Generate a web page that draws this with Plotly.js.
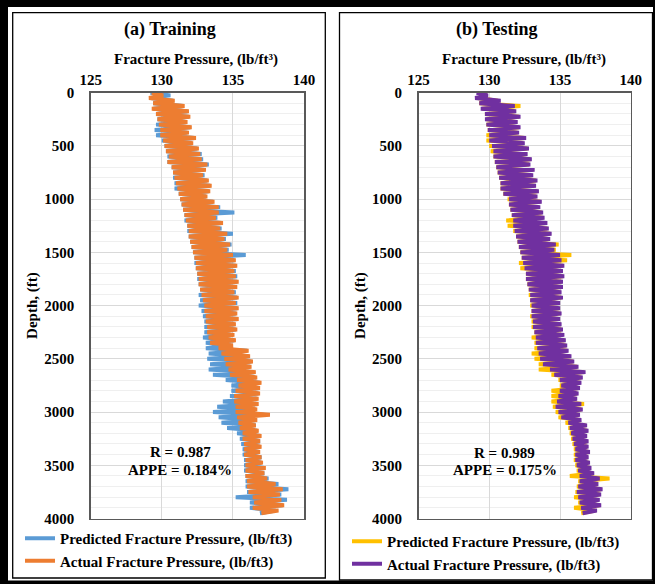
<!DOCTYPE html>
<html>
<head>
<meta charset="utf-8">
<script src="https://cdn.plot.ly/plotly-3.0.1.min.js"></script>
<style>html,body{margin:0;padding:0;background:#fff;}#chart{width:655px;height:584px;}</style>
</head>
<body>
<div id="chart"></div>
<script>
// Depth (ft)
const depthFt = [
0,25,50,75,100,125,150,175,200,225,250,275,300,325,350,375,400,425,450,475,
500,525,550,575,600,625,650,675,700,725,750,775,800,825,850,875,900,925,950,975,
1000,1025,1050,1075,1100,1125,1150,1175,1200,1225,1250,1275,1300,1325,1350,1375,1400,1425,1450,1475,
1500,1525,1550,1575,1600,1625,1650,1675,1700,1725,1750,1775,1800,1825,1850,1875,1900,1925,1950,1975,
2000,2025,2050,2075,2100,2125,2150,2175,2200,2225,2250,2275,2300,2325,2350,2375,2400,2425,2450,2475,
2500,2525,2550,2575,2600,2625,2650,2675,2700,2725,2750,2775,2800,2825,2850,2875,2900,2925,2950,2975,
3000,3025,3050,3075,3100,3125,3150,3175,3200,3225,3250,3275,3300,3325,3350,3375,3400,3425,3450,3475,
3500,3525,3550,3575,3600,3625,3650,3675,3700,3725,3750,3775,3800,3825,3850,3875,3900,3925,3950
];

// (a) Training - Predicted fracture pressure (lb/ft3)
const trainPredicted = [
129.2,130.6,129.2,130.8, 129.4,131.5,129.4,131.8, 129.6,131.9,129.7,131.7, 129.6,132.0,129.5,131.8, 129.6,132.3,130.0,132.1,
130.2,132.5,130.3,132.8, 130.4,132.9,130.4,133.3, 130.7,133.0,130.8,133.0, 130.8,133.2,130.9,133.4, 130.9,133.3,131.2,133.1,
131.3,133.6,131.4,134.1, 131.5,135.1,131.6,133.9, 131.6,134.2,131.8,134.2, 131.8,135.0,131.9,134.5, 132.0,134.9,132.1,134.7,
132.2,135.9,132.3,135.1, 132.3,135.2,132.4,135.2, 132.5,135.3,132.5,135.3, 132.6,135.2,132.7,135.2, 132.6,135.3,132.7,135.3,
132.6,135.3,132.8,135.2, 132.9,135.3,133.0,135.1, 133.0,135.2,133.0,135.0, 132.9,135.1,133.1,134.9, 133.1,136.0,133.3,136.1,
133.2,136.3,133.4,136.2, 133.3,136.5,133.6,136.6, 134.5,136.9,134.9,136.8, 134.9,136.8,134.8,136.7, 134.3,136.7,133.9,136.6,
133.6,137.2,134.0,136.6, 134.2,136.6,134.6,136.7, 135.3,136.9,135.5,136.9, 135.6,136.9,135.7,136.8, 135.7,137.0,135.8,137.0,
135.8,137.2,135.8,137.2, 135.9,137.5,135.9,138.2, 135.9,138.9,136.0,138.4, 135.2,138.8,136.2,138.5, 136.2,138.0,136.9
];

// (a) Training - Actual fracture pressure (lb/ft3)
const trainActual = [
129.3,130.1,129.1,130.9, 129.4,131.6,129.3,131.9, 129.6,132.0,129.7,131.8, 129.8,132.1,129.9,131.9, 129.9,132.4,130.1,132.2,
130.2,132.6,130.3,132.7, 130.5,132.8,130.4,133.2, 130.7,133.1,130.8,132.9, 130.9,133.3,131.0,133.5, 131.1,133.4,131.2,133.2,
131.3,133.7,131.4,134.0, 131.5,134.0,131.6,133.8, 131.7,134.3,131.8,134.1, 131.9,134.6,131.9,134.4, 132.0,134.8,132.1,134.6,
132.2,135.0,132.3,135.2, 132.4,135.3,132.4,135.1, 132.5,135.2,132.6,135.4, 132.6,135.3,132.7,135.1, 132.8,135.4,132.9,135.2,
133.0,135.4,133.0,135.3, 133.1,135.4,133.1,135.2, 133.2,135.3,133.2,135.1, 133.3,135.2,133.4,135.0, 134.0,136.1,134.2,136.2,
134.4,136.4,134.5,136.3, 134.7,136.6,134.8,136.7, 135.3,137.0,135.4,136.9, 135.2,136.9,135.1,136.8, 135.1,136.8,135.2,136.7,
135.2,137.6,135.3,136.7, 135.4,136.6,135.5,136.8, 135.7,137.0,135.7,136.9, 135.8,137.0,135.8,136.9, 135.8,137.0,135.9,137.1,
135.9,137.3,135.9,137.2, 135.9,137.4,136.0,138.0, 136.0,138.5,136.1,138.3, 136.4,138.4,136.5,138.6, 136.4,138.2,137.0
];

// (b) Testing - Predicted fracture pressure (lb/ft3)
const testPredicted = [
129.4,129.8,129.2,130.6, 129.3,132.2,129.5,131.8, 129.7,132.1,129.8,131.9, 129.8,132.1,129.9,132.0, 129.8,132.5,129.8,132.4,
130.0,132.7,130.1,132.6, 130.3,132.9,130.4,132.8, 130.5,133.1,130.6,133.0, 130.7,133.3,130.8,133.2, 130.8,133.4,131.0,133.3,
131.3,133.6,131.4,133.5, 131.5,133.7,131.6,133.8, 131.2,134.0,131.3,134.1, 131.7,134.3,131.9,134.2, 132.0,134.9,132.1,134.7,
132.2,135.8,132.3,135.5, 132.1,135.2,132.2,135.1, 132.6,135.2,132.6,135.1, 132.7,135.1,132.8,135.0, 132.8,135.1,132.9,134.9,
132.9,134.9,133.0,135.0, 132.9,134.9,133.0,135.0, 133.0,135.1,133.2,135.2, 133.0,135.3,133.2,135.4, 133.2,135.5,133.0,135.7,
133.2,135.9,133.5,136.2, 133.5,136.7,134.4,136.5, 134.9,136.4,135.0,136.3, 134.4,136.2,134.4,136.1, 134.4,136.7,134.5,136.5,
134.7,136.3,134.9,136.4, 135.4,136.8,135.6,136.9, 135.7,136.8,135.8,136.9, 135.9,136.9,136.0,137.0, 136.0,136.9,136.0,137.0,
136.1,137.1,136.2,137.3, 135.7,138.5,136.3,137.6, 136.2,137.9,136.1,137.8, 136.0,137.7,136.3,137.8, 136.0,137.5,136.5
];

// (b) Testing - Actual fracture pressure (lb/ft3)
const testActual = [
129.1,129.9,129.0,130.8, 129.3,131.8,129.4,131.9, 129.7,132.2,129.7,132.0, 129.8,132.2,129.9,132.1, 130.0,132.6,130.0,132.5,
130.2,132.8,130.3,132.7, 130.3,133.0,130.4,132.9, 130.5,133.2,130.6,133.1, 130.7,133.4,130.8,133.3, 130.8,133.5,131.0,133.4,
131.4,133.7,131.4,133.6, 131.5,133.8,131.6,133.9, 131.7,134.1,131.7,134.2, 131.8,134.4,131.9,134.3, 132.0,134.7,132.1,134.6,
132.2,135.0,132.3,135.1, 132.4,135.3,132.5,135.2, 132.6,135.3,132.6,135.2, 132.7,135.2,132.8,135.1, 132.9,135.2,132.9,135.0,
133.0,135.0,133.0,135.1, 133.0,135.0,133.1,135.1, 133.1,135.2,133.2,135.3, 133.3,135.4,133.3,135.5, 133.4,135.6,133.5,135.8,
133.6,136.0,133.8,136.3, 134.3,136.8,134.6,136.6, 135.0,136.5,135.1,136.4, 135.0,136.3,134.9,136.2, 134.8,136.5,134.7,136.6,
134.9,136.4,135.1,136.5, 135.6,136.9,135.7,137.0, 135.8,136.9,135.9,137.0, 136.0,137.0,136.1,137.1, 136.1,137.0,136.1,137.1,
136.2,137.2,136.3,137.4, 136.4,137.8,136.4,137.7, 136.3,138.0,136.2,137.9, 136.3,137.8,136.4,137.9, 136.5,137.6,136.6
];

const xTickVals = [125, 130, 135, 140];
const depthTickVals = [0, 500, 1000, 1500, 2000, 2500, 3000, 3500, 4000];
const panelTitles = ['(a) Training', '(b) Testing'];
const xTitleText = 'Fracture Pressure, (lb/ft³)';
const statsText = [['R = 0.987', 'APPE = 0.184%'], ['R = 0.989', 'APPE = 0.175%']];
const seriesNames = ['Predicted Fracture Pressure, (lb/ft3)', 'Actual Fracture Pressure, (lb/ft3)'];

const W = 655, H = 584;
const px = v => v / W;
const py = v => 1 - v / H;
const FONT = 'Liberation Serif, Times New Roman, serif';
const f = (size) => ({family: FONT, size: size, color: '#000', weight: 'bold'});
const LW = 4;

const traces = [
  {x: trainPredicted, y: depthFt, xaxis: 'x', yaxis: 'y', mode: 'lines', name: seriesNames[0],
   line: {color: '#5B9BD5', width: LW}, legend: 'legend'},
  {x: trainActual, y: depthFt, xaxis: 'x', yaxis: 'y', mode: 'lines', name: seriesNames[1],
   line: {color: '#ED7D31', width: LW}, legend: 'legend'},
  {x: testPredicted, y: depthFt, xaxis: 'x2', yaxis: 'y2', mode: 'lines', name: seriesNames[0],
   line: {color: '#FFC000', width: LW}, legend: 'legend2'},
  {x: testActual, y: depthFt, xaxis: 'x2', yaxis: 'y2', mode: 'lines', name: seriesNames[1],
   line: {color: '#7030A0', width: LW}, legend: 'legend2'}
];

function xAxis(domain, anchor) {
  return {
    domain: domain, anchor: anchor, side: 'top', range: [125, 140],
    tickmode: 'array', tickvals: xTickVals, ticks: '', ticklabelstandoff: 0,
    tickfont: f(15), showgrid: true, gridcolor: '#d9d9d9', gridwidth: 1,
    showline: true, mirror: true, linecolor: '#595959', linewidth: 1.5, zeroline: false
  };
}
function yAxis(anchor) {
  return {
    domain: [py(518.5), py(92.7)], anchor: anchor, range: [4000, 0],
    tickmode: 'array', tickvals: depthTickVals, ticks: '', ticklabelstandoff: 12,
    tickfont: f(15), showgrid: true, gridcolor: '#d9d9d9', gridwidth: 1,
    minor: {tick0: 0, dtick: 100, showgrid: true, gridcolor: '#efefef', gridwidth: 1},
    showline: true, mirror: true, linecolor: '#595959', linewidth: 1.5, zeroline: false,
    title: {text: 'Depth, (ft)', font: f(15), standoff: 3}
  };
}

const ann = (text, x, y, size) => ({text: text, x: px(x), y: py(y), xref: 'paper', yref: 'paper',
  showarrow: false, xanchor: 'center', yanchor: 'middle', font: f(size)});

const legendStyle = (x, y) => ({x: px(x), y: py(y), xanchor: 'left', yanchor: 'top',
  bgcolor: 'rgba(0,0,0,0)', font: f(15), tracegroupgap: 0, itemwidth: 30, borderwidth: 0});

const rectFill = (x0, y0, x1, y1) => ({type: 'rect', xref: 'paper', yref: 'paper',
  x0: px(x0), x1: px(x1), y0: py(y0), y1: py(y1), fillcolor: '#000', line: {width: 0}});
const rectLine = (x0, y0, x1, y1) => ({type: 'rect', xref: 'paper', yref: 'paper',
  x0: px(x0), x1: px(x1), y0: py(y0), y1: py(y1), fillcolor: 'rgba(0,0,0,0)', line: {color: '#000', width: 1.3}});

const layout = {
  width: W, height: H, margin: {l: 0, r: 0, t: 0, b: 0},
  paper_bgcolor: '#fff', plot_bgcolor: '#fff', showlegend: true,
  font: {family: FONT, color: '#000'},
  xaxis: xAxis([px(90.7), px(304)], 'y'),
  yaxis: yAxis('x'),
  xaxis2: xAxis([px(418.6), px(630.7)], 'y2'),
  yaxis2: yAxis('x2'),
  legend: legendStyle(20, 522),
  legend2: legendStyle(347, 525),
  annotations: [
    ann(panelTitles[0], 170, 29, 18),
    ann(panelTitles[1], 497, 29, 18),
    ann(xTitleText, 196, 59, 15),
    ann(xTitleText, 524, 59, 15),
    ann(statsText[0][0], 180, 452, 15),
    ann(statsText[0][1], 180, 470, 15),
    ann(statsText[1][0], 505, 453, 15),
    ann(statsText[1][1], 505, 470, 15)
  ],
  shapes: [
    rectFill(0, 0, 8, 584), rectFill(0, 0, 655, 7), rectFill(0, 580.5, 655, 584), rectFill(653, 0, 655, 584),
    rectLine(12.7, 12.7, 325.3, 578), rectLine(339.5, 12.7, 652.5, 580)
  ]
};

Plotly.newPlot('chart', traces, layout, {displayModeBar: false, staticPlot: true});
</script>
</body>
</html>
